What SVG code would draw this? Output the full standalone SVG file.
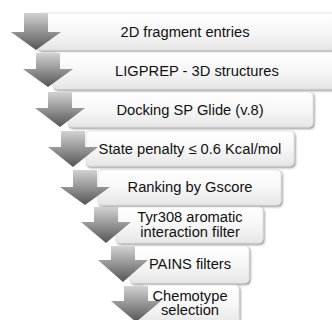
<svg xmlns="http://www.w3.org/2000/svg" width="332" height="320" viewBox="0 0 332 320">
<defs>
<linearGradient id="boxg" x1="0" y1="0" x2="0" y2="1">
<stop offset="0" stop-color="#ffffff"/>
<stop offset="0.5" stop-color="#f7f7f7"/>
<stop offset="1" stop-color="#e6e6e6"/>
</linearGradient>
<linearGradient id="arrg" x1="0" y1="0" x2="0" y2="1">
<stop offset="0" stop-color="#d2d2d2"/>
<stop offset="0.45" stop-color="#9a9a9a"/>
<stop offset="1" stop-color="#555555"/>
</linearGradient>
<filter id="sh" x="-10%" y="-20%" width="120%" height="150%">
<feDropShadow dx="1.2" dy="1.5" stdDeviation="0.9" flood-color="#000" flood-opacity="0.45"/>
</filter>
</defs>
<style>
.box{fill:url(#boxg);stroke:#d8d8d8;stroke-width:0.6;filter:url(#sh)}
.arr{fill:url(#arrg)}
text{font-family:"Liberation Sans",Arial,sans-serif;font-size:14.7px;fill:#111;text-anchor:middle}
</style>
<g id="n1"><rect class="box" x="37" y="13" width="305" height="37" rx="4"/><text x="185" y="36.5">2D fragment entries</text></g>
<g id="n2"><rect class="box" x="53" y="52" width="290" height="37" rx="4"/><text x="197" y="75.5">LIGPREP - 3D structures</text></g>
<g id="n3"><rect class="box" x="68" y="92" width="245" height="35" rx="4"/><text x="190" y="115">Docking SP Glide (v.8)</text></g>
<g id="n4"><rect class="box" x="86" y="131" width="208" height="35" rx="4"/><text x="190" y="153.5">State penalty ≤ 0.6 Kcal/mol</text></g>
<g id="n5"><rect class="box" x="98" y="170" width="183" height="35" rx="4"/><text x="190" y="192">Ranking by Gscore</text></g>
<g id="n6"><rect class="box" x="116" y="207" width="147" height="36" rx="4"/><text x="190" y="222">Tyr308 aromatic</text><text x="190" y="237">interaction filter</text></g>
<g id="n7"><rect class="box" x="130" y="246" width="119" height="37" rx="4"/><text x="190" y="269">PAINS filters</text></g>
<g id="n8"><rect class="box" x="141" y="285" width="98" height="40" rx="4"/><text x="190" y="300.5">Chemotype</text><text x="190" y="315">selection</text></g>
<g id="connectors">
<polygon class="arr" points="24,13 48,13 48,32 61,32 36,50 11,32 24,32"/>
<polygon class="arr" points="36,53 60,53 60,69 73,69 48,87 23,69 36,69"/>
<polygon class="arr" points="48,92 72,92 72,108 85,108 60,127 35,108 48,108"/>
<polygon class="arr" points="61,131 85,131 85,147 98,147 73,167 48,147 61,147"/>
<polygon class="arr" points="73,170 97,170 97,187 110,187 85,205 60,187 73,187"/>
<polygon class="arr" points="94,207 118,207 118,222 131,222 106,243 81,222 94,222"/>
<polygon class="arr" points="111,246 135,246 135,260 148,260 123,282 98,260 111,260"/>
<polygon class="arr" points="124,286 148,286 148,301 161,301 136,322 111,301 124,301"/>
</g>
</svg>
